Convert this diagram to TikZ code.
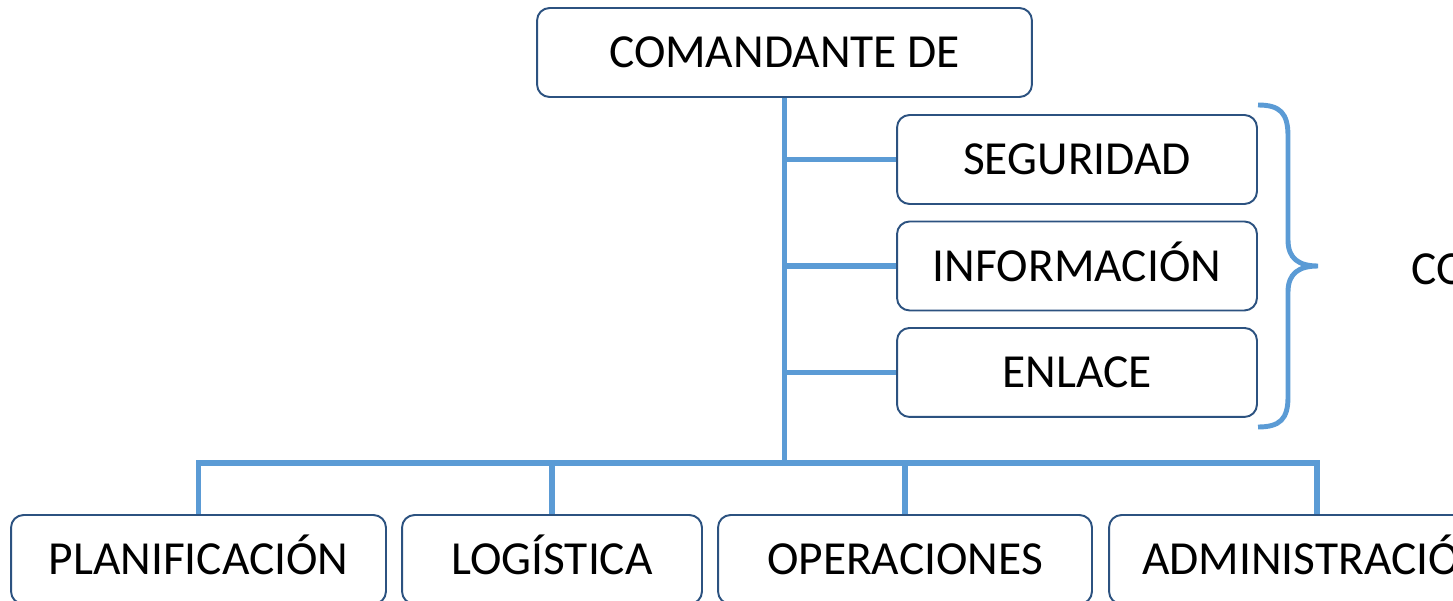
\documentclass[tikz,border=0pt]{standalone}
\usepackage{fontspec}
\setmainfont{Carlito}
\usetikzlibrary{positioning}
\definecolor{boxblue}{RGB}{44,82,128}
\definecolor{lineblue}{RGB}{91,155,213}
\tikzset{
	x=0.02cm, y=-0.02cm,
	node distance=2.13cm,
	on grid,
	box/.style={draw=boxblue, line width=1.1pt, rounded corners=0.25cm, fill=white,
		inner sep=0pt, minimum height=1.78cm,
		font=\fontsize{27}{32}\selectfont, text height=17.4pt, text depth=0pt},
	staff/.style={box, minimum width=7.2cm},
	link/.style={draw=lineblue, line width=3pt},
}
\begin{document}
\begin{tikzpicture}
	\useasboundingbox (0,0) rectangle (1453,601);
	\clip (0,0) rectangle (1453,601);

	% top and staff
	\node[box, minimum width=9.9cm] (cmd) at (784.5,52.5) {COMANDANTE DE};
	\node[staff] (seg) at (1077,159.5) {SEGURIDAD};
	\node[staff, below=of seg] (inf) {INFORMACIÓN};
	\node[staff, below=of inf] (enl) {ENLACE};

	% sections
	\node[box, minimum width=7.5cm] (plan) at (198.5,559.5) {PLANIFICACIÓN};
	\node[box, minimum width=6cm] (log) at (552,559.5) {LOGÍSTICA};
	\node[box, minimum width=7.48cm] (ope) at (905,559.5) {OPERACIONES};
	\node[box, minimum width=8.32cm, text width=7cm, inner xsep=0.66cm, align=left] (adm) at (1317,559.5) {ADMINISTRACIÓ};

	\coordinate (bus) at (784.5,463);
	\draw[link] (cmd.south) -- (bus);
	\draw[link] (cmd.south |- seg.west) -- (seg.west);
	\draw[link] (cmd.south |- inf.west) -- (inf.west);
	\draw[link] (cmd.south |- enl.west) -- (enl.west);
	\draw[link] (plan.north) |- (bus) -| (adm.north);
	\draw[link] (log.north) -- (log.north |- bus);
	\draw[link] (ope.north) -- (ope.north |- bus);

	% brace
	\coordinate (tip) at (1318,266);
	\draw[link, line width=2.8pt] (1258,105) .. controls (1280,105) and (1288,113) .. (1288,136) -- (1288,240)
		.. controls (1288,258) and (1298,266) .. (tip)
		.. controls (1298,266) and (1288,274) .. (1288,292) -- (1288,397)
		.. controls (1288,419) and (1280,427) .. (1258,427);
	\node[anchor=west, inner sep=0pt, font=\fontsize{27}{32}\selectfont, text height=17.4pt, text depth=0pt] (com) at (1411,269) {CO};
\end{tikzpicture}
\end{document}
